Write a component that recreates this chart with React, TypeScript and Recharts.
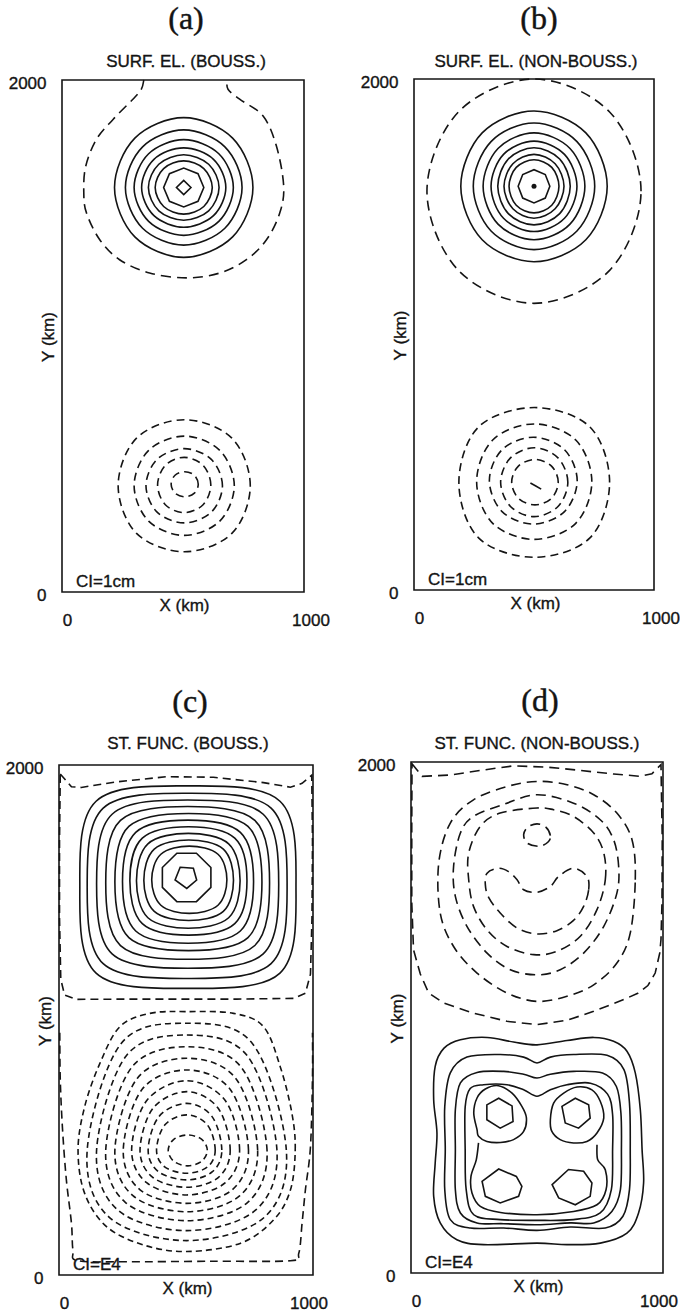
import React from "react";
import { ComposedChart, Line, XAxis, YAxis, ReferenceArea, ReferenceDot } from "recharts";

type Pt = [number, number];

const FONT = "'Liberation Sans', Arial, Helvetica, sans-serif";
const SERIF = "'Liberation Serif', 'Times New Roman', serif";
const INK = "#141414";

const xTicks = [0, 1000];
const yTicks = [0, 2000];

// ---- (a) surface elevation, Boussinesq (km) ----
const aSolid: Pt[][] = [
  [[789,1580],[705,1773],[503,1853],[301,1773],[217,1580],[301,1387],[503,1307],[705,1387]],
  [[744,1580],[673,1739],[503,1805],[333,1739],[262,1580],[333,1421],[503,1355],[673,1421]],
  [[708,1580],[648,1712],[503,1767],[358,1712],[298,1580],[358,1448],[503,1393],[648,1448]],
  [[677,1580],[626,1690],[503,1735],[380,1690],[329,1580],[380,1470],[503,1425],[626,1470]],
  [[649,1580],[606,1671],[503,1708],[400,1671],[357,1580],[400,1489],[503,1452],[606,1489]],
  [[621,1580],[586,1654],[503,1684],[420,1654],[385,1580],[420,1506],[503,1476],[586,1506]],
];
const aPoly: Pt[][] = [
  [[586,1580],[562,1634],[503,1656],[444,1634],[420,1580],[444,1526],[503,1504],[562,1526]],
  [[533,1580],[503,1608],[473,1580],[503,1552]],
];
const aLow: Pt[][] = [
  [[778,415],[702,601],[505,673],[308,601],[232,415],[308,229],[505,157],[702,229]],
  [[712,415],[652,553],[505,609],[358,553],[298,415],[358,277],[505,221],[652,277]],
  [[663,415],[617,518],[505,560],[393,518],[347,415],[393,312],[505,270],[617,312]],
  [[615,418],[583,495],[505,526],[427,495],[395,418],[427,341],[505,310],[583,341]],
  [[563,421],[547,456],[507,470],[467,456],[451,421],[467,386],[507,372],[547,386]],
];
const aHigh: Pt[][] = [
  [[338,2000],[328,1964],[293,1925],[211,1846],[142,1768],[98,1663],[90,1563],[101,1481],[156,1376],
   [238,1298],[362,1246],[514,1227],[652,1246],[762,1298],[845,1376],[900,1481],[916,1586],[886,1742],
   [831,1859],[734,1925],[686,1964],[683,2000]],
];

// ---- (b) surface elevation, non-Boussinesq ----
const bSolid: Pt[][] = [
  [[805,1580],[716,1789],[500,1875],[284,1789],[195,1580],[284,1371],[500,1285],[716,1371]],
  [[753,1580],[679,1755],[500,1828],[321,1755],[247,1580],[321,1405],[500,1332],[679,1405]],
  [[712,1580],[650,1728],[500,1789],[350,1728],[288,1580],[350,1432],[500,1371],[650,1432]],
  [[679,1580],[627,1705],[500,1757],[373,1705],[321,1580],[373,1455],[500,1403],[627,1455]],
  [[651,1580],[607,1687],[500,1731],[393,1687],[349,1580],[393,1473],[500,1429],[607,1473]],
  [[625,1580],[588,1668],[500,1705],[412,1668],[375,1580],[412,1492],[500,1455],[588,1492]],
  [[604,1580],[574,1654],[500,1684],[426,1654],[396,1580],[426,1506],[500,1476],[574,1506]],
];
const bPoly: Pt[][] = [
  [[566,1580],[547,1626],[500,1645],[453,1626],[434,1580],[453,1534],[500,1515],[547,1534]],
];
const bPeak: Pt = [500, 1580];
const bHigh: Pt[][] = [
  [[946,1561],[815,1871],[500,2000],[185,1871],[54,1561],[185,1251],[500,1122],[815,1251]],
];
const bLow: Pt[][] = [
  [[815,421],[733,638],[501,714],[269,638],[187,421],[269,204],[501,128],[733,204]],
  [[741,424],[674,587],[501,650],[328,587],[261,424],[328,261],[501,198],[674,261]],
  [[680,428],[627,549],[497,598],[367,549],[314,428],[367,307],[497,258],[627,307]],
  [[641,422],[600,517],[501,557],[402,517],[361,422],[402,327],[501,287],[600,327]],
  [[601,422],[573,485],[504,511],[435,485],[407,422],[435,359],[504,333],[573,359]],
];
const bLowCore: Pt[][] = [[[485,419],[530,395]]];

// ---- (c) stream function, Boussinesq ----
const cSolid: Pt[][] = [
  [[933,1521],[870,1858],[508,1918],[146,1858],[82,1521],[146,1184],[508,1124],[870,1184]],
  [[898,1526],[835,1831],[505,1889],[174,1831],[111,1526],[174,1221],[505,1163],[835,1221]],
  [[865,1533],[804,1807],[507,1863],[209,1807],[148,1533],[209,1259],[507,1203],[804,1259]],
  [[829,1538],[771,1783],[507,1837],[242,1783],[184,1538],[242,1292],[507,1238],[771,1292]],
  [[799,1541],[744,1759],[510,1810],[275,1759],[220,1541],[275,1323],[510,1272],[744,1323]],
  [[766,1543],[714,1736],[508,1784],[302,1736],[250,1543],[302,1349],[508,1301],[714,1349]],
  [[740,1546],[692,1713],[510,1758],[328,1713],[279,1546],[328,1378],[510,1333],[692,1378]],
  [[713,1546],[668,1691],[509,1732],[350,1691],[305,1546],[350,1401],[509,1360],[668,1401]],
  [[687,1548],[647,1670],[511,1706],[375,1670],[334,1548],[375,1426],[511,1390],[647,1426]],
  [[661,1550],[626,1650],[513,1682],[401,1650],[365,1550],[401,1450],[513,1418],[626,1450]],
];
const cPoly: Pt[][] = [
  [[598,1598],[541,1654],[464,1654],[407,1598],[407,1520],[464,1464],[541,1464],[598,1520]],
  [[477,1599],[529,1595],[542,1549],[503,1516],[457,1549]],
];
const cWall: Pt[][] = [
  [[5,1965],[49,1915],[88,1912],[227,1934],[424,1954],[608,1952],[805,1931],[911,1913],[957,1928],
   [995,1960],[998,1700],[996,1400],[990,1180],[970,1105],[924,1085],[700,1082],[500,1082],[300,1082],
   [69,1081],[22,1098],[7,1160],[2,1400],[2,1700]],
];
const cWallLow: Pt[][] = [
  [[3,950],[5,765],[14,570],[29,373],[49,203],[55,98],[75,56],[272,52],[600,54],[911,56],[944,85],
   [957,203],[970,333],[990,503],[998,778],[998,950]],
];
const cLow: Pt[][] = [
  [[930,490],[917,634],[871,817],[805,974],[687,1026],[503,1033],[358,1026],[240,974],[161,830],
   [101,660],[75,490],[101,320],[187,190],[332,118],[503,92],[713,124],[845,216],[911,333]],
  [[895,490],[762,907],[503,987],[244,907],[111,490],[197,227],[503,135],[809,227]],
  [[858,490],[741,860],[503,941],[265,860],[148,490],[230,256],[503,174],[776,256]],
  [[819,490],[718,814],[503,895],[286,814],[184,490],[261,285],[503,213],[743,285]],
  [[782,490],[696,771],[503,850],[308,771],[220,490],[291,311],[503,248],[712,311]],
  [[746,490],[673,729],[503,804],[328,729],[253,490],[318,335],[503,281],[683,335]],
  [[711,490],[653,686],[503,762],[347,686],[286,490],[345,362],[503,314],[655,362]],
  [[674,490],[626,655],[503,719],[371,655],[319,490],[369,383],[503,344],[628,383]],
  [[641,490],[602,622],[503,673],[394,622],[351,490],[392,405],[503,373],[604,405]],
  [[615,490],[584,589],[503,628],[417,589],[384,490],[416,424],[503,399],[585,424]],
  [[584,489],[562,532],[507,549],[452,532],[430,489],[452,446],[507,428],[562,446]],
];

// ---- (d) stream function, non-Boussinesq ----
const dWall: Pt[][] = [
  [[4,1993],[44,1944],[156,1949],[275,1967],[407,1985],[540,1980],[672,1967],[804,1953],[910,1944],
   [956,1954],[992,1990],[997,1700],[996,1450],[992,1305],[987,1252],[969,1174],[940,1125],[900,1095],
   [844,1070],[725,1024],[619,989],[500,972],[381,985],[248,1017],[129,1057],[70,1096],[37,1170],
   [10,1265],[3,1450],[3,1750]],
];
const dHigh: Pt[][] = [
  [[890,1539],[877,1696],[817,1800],[725,1872],[619,1911],[500,1924],[381,1904],[248,1852],[156,1761],
   [110,1604],[116,1409],[169,1278],[262,1174],[381,1096],[500,1063],[619,1083],[725,1128],[817,1213],[870,1330]],
  [[824,1591],[804,1696],[751,1774],[645,1839],[500,1872],[370,1835],[248,1787],[196,1722],[169,1591],
   [176,1474],[222,1357],[302,1252],[394,1187],[500,1167],[592,1187],[685,1252],[765,1357],[817,1487]],
  [[771,1539],[765,1644],[725,1722],[645,1787],[566,1813],[500,1820],[354,1800],[275,1748],[229,1644],
   [229,1539],[248,1435],[302,1343],[381,1278],[487,1246],[579,1259],[672,1318],[738,1422]],
  [[705,1500],[698,1552],[645,1584],[586,1552],[553,1513],[500,1490],[447,1500],[421,1539],[387,1571],
   [348,1584],[302,1565],[295,1520],[308,1470],[354,1409],[421,1350],[500,1327],[579,1340],[645,1380],[685,1435]],
  [[553,1712],[535,1745],[500,1758],[463,1745],[447,1715],[462,1682],[510,1670],[545,1688]],
];
const dSolid: Pt[][] = [
  [[917,483],[910,639],[890,783],[857,868],[804,907],[725,922],[619,910],[500,893],[407,904],[302,922],
   [196,913],[131,880],[96,809],[90,678],[103,548],[96,430],[90,300],[116,196],[182,130],[288,111],
   [500,117],[619,111],[751,117],[857,156],[903,235],[923,352]],
  [[870,483],[867,665],[845,796],[778,852],[645,855],[553,845],[500,822],[447,845],[354,855],[222,845],
   [156,783],[134,652],[136,483],[134,326],[156,209],[235,176],[368,176],[500,167],[632,180],[771,176],
   [841,222],[867,326]],
  [[835,483],[833,626],[815,730],[760,783],[645,789],[553,778],[500,763],[447,778],[368,789],[262,785],
   [196,744],[176,639],[176,483],[176,326],[196,235],[262,196],[368,193],[500,189],[632,196],[725,196],
   [797,241],[831,326]],
  [[800,483],[800,620],[780,700],[712,743],[619,737],[553,717],[500,692],[447,717],[381,737],[288,737],
   [235,722],[215,650],[215,483],[219,326],[249,228],[354,209],[500,206],[645,209],[751,235],[795,326]],
  [[262,561],[249,626],[262,685],[295,720],[347,733],[401,704],[440,652],[458,607],[447,554],[407,522],
   [355,511],[301,515],[268,535]],
  [[553,600],[566,665],[606,704],[659,728],[718,717],[751,672],[765,607],[738,548],[698,515],[645,509],
   [592,522],[559,554]],
];
const dSolidOpen: Pt[][] = [
  [[268,509],[259,443],[238,378],[242,313],[275,261],[355,237],[500,228],[645,241],[738,267],[774,326],
   [771,404],[741,443],[738,502]],
];
const dPoly: Pt[][] = [
  [[301,658],[348,684],[401,654],[405,593],[354,567],[301,600]],
  [[599,652],[652,684],[705,658],[711,606],[665,567],[612,587]],
  [[282,359],[348,407],[418,378],[440,339],[427,300],[354,274],[295,300]],
  [[560,346],[625,405],[685,398],[718,352],[711,300],[652,267],[586,294]],
];

// catmull-rom style smooth curve, closed or open
function smoothCurve(closed: boolean) {
  return (context: any) => {
    let pts: number[][] = [];
    return {
      areaStart() {},
      areaEnd() {},
      lineStart() { pts = []; },
      point(x: number, y: number) { pts.push([+x, +y]); },
      lineEnd() {
        const n = pts.length;
        if (!n) return;
        const at = (i: number) =>
          closed ? pts[(i + n) % n] : pts[Math.max(0, Math.min(n - 1, i))];
        context.moveTo(pts[0][0], pts[0][1]);
        const segs = closed ? n : n - 1;
        for (let i = 0; i < segs; i++) {
          const p0 = at(i - 1), p1 = at(i), p2 = at(i + 1), p3 = at(i + 2);
          context.bezierCurveTo(
            p1[0] + (p2[0] - p0[0]) / 6, p1[1] + (p2[1] - p0[1]) / 6,
            p2[0] - (p3[0] - p1[0]) / 6, p2[1] - (p3[1] - p1[1]) / 6,
            p2[0], p2[1]
          );
        }
        if (closed) context.closePath();
      },
    };
  };
}

const curves: Record<string, any> = {
  closed: smoothCurve(true),
  open: smoothCurve(false),
  poly: "linearClosed",
  polyline: "linear",
};

type Group = { lines: Pt[][]; kind: string; dash?: string };
type PanelCfg = {
  left: number; top: number; w: number; h: number;
  ci: string; x1000: number; groups: Group[]; peak?: Pt;
};

const panels: PanelCfg[] = [
  {
    left: 62, top: 80, w: 242, h: 512, ci: "CI=1cm", x1000: 7,
    groups: [
      { lines: aSolid, kind: "closed" },
      { lines: aPoly, kind: "poly" },
      { lines: aLow, kind: "closed", dash: "8 5" },
      { lines: aHigh, kind: "open", dash: "10 6" },
    ],
  },
  {
    left: 414, top: 79, w: 240, h: 511, ci: "CI=1cm", x1000: 7, peak: bPeak,
    groups: [
      { lines: bSolid, kind: "closed" },
      { lines: bPoly, kind: "poly" },
      { lines: bHigh, kind: "closed", dash: "10 6" },
      { lines: bLow, kind: "closed", dash: "8 5" },
      { lines: bLowCore, kind: "open" },
    ],
  },
  {
    left: 59, top: 765, w: 254, h: 510, ci: "CI=E4", x1000: -4,
    groups: [
      { lines: cSolid, kind: "closed" },
      { lines: cPoly, kind: "poly" },
      { lines: cWall, kind: "poly", dash: "8 5" },
      { lines: cWallLow, kind: "open", dash: "8 5" },
      { lines: cLow, kind: "closed", dash: "6 4" },
    ],
  },
  {
    left: 411, top: 762, w: 252, h: 511, ci: "CI=E4", x1000: -4,
    groups: [
      { lines: dWall, kind: "poly", dash: "10 6" },
      { lines: dHigh, kind: "closed", dash: "10 6" },
      { lines: dSolid, kind: "closed" },
      { lines: dSolidOpen, kind: "open" },
      { lines: dPoly, kind: "poly" },
    ],
  },
];

const titles = [
  { text: "(a)", sub: "SURF. EL. (BOUSS.)", x: 186, y: 29, sx: 186, sy: 67 },
  { text: "(b)", sub: "SURF. EL. (NON-BOUSS.)", x: 539, y: 29, sx: 536, sy: 67 },
  { text: "(c)", sub: "ST. FUNC. (BOUSS.)", x: 190, y: 712, sx: 188, sy: 749 },
  { text: "(d)", sub: "ST. FUNC. (NON-BOUSS.)", x: 540, y: 711, sx: 537, sy: 749 },
];

const ML = 40, YW = 26, MT = 10, MR = 36, XH = 45;
const textStyle = { fontFamily: FONT, fontSize: 17, fill: INK, stroke: INK, strokeWidth: 0.35 };

function Panel({ cfg }: { cfg: PanelCfg }) {
  const { left, top, w, h, ci, x1000, groups, peak } = cfg;

  const xTick = (props: any) => {
    const v = props.payload.value;
    const dx = v === 0 ? 5.5 : x1000;
    return (
      <text x={props.x + dx} y={props.y + 34} textAnchor="middle" style={textStyle}>
        {v}
      </text>
    );
  };
  const yTick = (props: any) => (
    <text x={props.x - 15.5} y={props.y + 9} textAnchor="end" style={textStyle}>
      {props.payload.value}
    </text>
  );
  const xLabel = (props: any) => {
    const vb = props.viewBox;
    return (
      <text x={vb.x + vb.width / 2 + 1.5} y={vb.y + 19} textAnchor="middle" style={textStyle}>
        X (km)
      </text>
    );
  };
  const yLabel = (props: any) => {
    const vb = props.viewBox;
    const cx = vb.x + vb.width - 13.5;
    const cy = vb.y + vb.height / 2 + 1;
    return (
      <text
        x={cx}
        y={cy}
        transform={`rotate(-90, ${cx}, ${cy})`}
        textAnchor="middle"
        dominantBaseline="central"
        style={textStyle}
      >
        Y (km)
      </text>
    );
  };
  const ciLabel = (props: any) => {
    const vb = props.viewBox;
    return (
      <text x={vb.x + 14} y={vb.y + vb.height - 5.5} style={textStyle}>
        {ci}
      </text>
    );
  };

  return (
    <div style={{ position: "absolute", left: left - ML - YW, top: top - MT }}>
      <ComposedChart
        width={ML + YW + w + MR}
        height={MT + h + XH}
        margin={{ top: MT, right: MR, bottom: 0, left: ML }}
      >
        <XAxis
          type="number"
          dataKey="x"
          domain={[0, 1000]}
          ticks={xTicks}
          interval={0}
          axisLine={false}
          tickLine={false}
          tickSize={0}
          tickMargin={0}
          height={XH}
          tick={xTick}
          label={xLabel}
        />
        <YAxis
          type="number"
          dataKey="y"
          domain={[0, 2000]}
          ticks={yTicks}
          interval={0}
          axisLine={false}
          tickLine={false}
          tickSize={0}
          tickMargin={0}
          width={YW}
          tick={yTick}
          label={yLabel}
        />
        <ReferenceArea
          x1={0}
          x2={1000}
          y1={0}
          y2={2000}
          fill="none"
          fillOpacity={0}
          stroke={INK}
          strokeWidth={1.6}
          strokeOpacity={1}
          label={ciLabel}
        />
        {groups.flatMap((g, gi) =>
          g.lines.map((pts, li) => (
            <Line
              key={`${gi}-${li}`}
              data={pts.map(([x, y]) => ({ x, y }))}
              dataKey="y"
              type={curves[g.kind]}
              stroke={INK}
              strokeWidth={1.6}
              strokeDasharray={g.dash}
              dot={false}
              activeDot={false}
              legendType="none"
              isAnimationActive={false}
            />
          ))
        )}
        {peak && <ReferenceDot x={peak[0]} y={peak[1]} r={2.5} fill={INK} stroke="none" />}
      </ComposedChart>
    </div>
  );
}

export default function App() {
  return (
    <div style={{ position: "absolute", left: 0, top: 0, width: 680, height: 1311, background: "#fff" }}>
      <svg width={680} height={1311} style={{ position: "absolute", left: 0, top: 0 }}>
        {titles.map((t) => (
          <g key={t.text}>
            <text
              x={t.x}
              y={t.y}
              textAnchor="middle"
              style={{ fontFamily: SERIF, fontSize: 32, fill: INK, stroke: INK, strokeWidth: 0.4 }}
            >
              {t.text}
            </text>
            <text x={t.sx} y={t.sy} textAnchor="middle" style={textStyle}>
              {t.sub}
            </text>
          </g>
        ))}
      </svg>
      {panels.map((p, i) => (
        <Panel key={i} cfg={p} />
      ))}
    </div>
  );
}
